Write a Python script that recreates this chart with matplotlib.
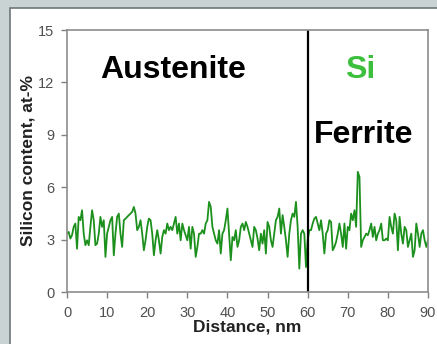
import matplotlib.pyplot as plt
import matplotlib.patches as patches
import numpy as np

plt.rcParams['font.family'] = ['Liberation Sans', 'DejaVu Sans']

# Si concentration profile (at-%)
si_content = [
    3.34, 3.44, 3.06, 3.25, 3.73, 3.92, 2.48, 4.30, 4.11, 4.68,
    3.34, 2.68, 2.96, 2.68, 3.73, 4.68, 4.11, 2.68, 2.77, 3.34,
    4.30, 3.73, 4.11, 2.01, 3.34, 3.73, 4.11, 4.30, 2.10, 3.34,
    4.30, 4.49, 3.34, 2.58, 4.11, 4.20, 4.30, 4.40, 4.49, 4.59,
    4.87, 4.49, 3.54, 3.73, 4.11, 3.34, 2.39, 2.96, 3.73, 4.20,
    4.11, 3.34, 2.10, 2.96, 3.54, 2.96, 2.20, 3.15, 3.54, 3.34,
    3.92, 3.54, 3.73, 3.54, 3.92, 4.30, 3.34, 3.92, 2.96, 3.92,
    3.54, 3.25, 2.96, 3.73, 2.48, 3.73, 3.34, 2.01, 2.58, 3.34,
    3.34, 3.54, 3.34, 3.92, 4.11, 5.16, 4.87, 3.73, 3.34, 2.96,
    2.77, 3.54, 2.20, 3.34, 3.54, 4.11, 4.78, 3.34, 1.82, 3.15,
    2.96, 3.54, 2.58, 2.96, 3.73, 3.92, 3.54, 4.01, 3.73, 3.34,
    2.96, 2.58, 3.73, 3.54, 3.06, 2.39, 3.34, 2.77, 3.54, 2.20,
    4.01, 3.73, 2.96, 2.58, 3.34, 4.11, 4.30, 4.78, 3.34, 4.40,
    3.73, 2.96, 2.01, 3.34, 4.11, 4.49, 4.30, 5.16, 3.73, 1.34,
    3.34, 3.54, 3.34, 1.43, 2.96, 3.54, 3.54, 3.92, 4.20, 4.30,
    3.92, 3.54, 4.11, 3.34, 2.20, 3.34, 3.54, 4.11, 4.01, 2.39,
    2.58, 2.87, 3.34, 3.92, 3.34, 2.58, 3.92, 2.48, 3.73, 3.54,
    4.49, 4.11, 4.68, 3.73, 6.88, 6.59, 2.58, 2.96, 3.15, 3.34,
    3.25, 3.54, 3.92, 3.15, 3.73, 2.96, 3.34, 3.54, 3.92, 2.96,
    2.96, 3.06, 2.96, 4.30, 3.73, 3.34, 4.49, 4.11, 2.39, 4.30,
    3.34, 2.77, 3.73, 3.54, 2.58, 2.96, 3.34, 2.01, 2.39, 3.92,
    3.34, 2.58, 3.34, 3.54, 2.96, 2.58, 2.96,
]
distance = np.linspace(0, 90, len(si_content))  # nm, evenly sampled scan

interface_nm = 60
x_ticks = [0, 10, 20, 30, 40, 50, 60, 70, 80, 90]
y_ticks = [0, 3, 6, 9, 12, 15]

fig = plt.figure(figsize=(4.37, 3.44), dpi=100)
fig.patch.set_facecolor('#c9d3d3')

# white slide panel behind the chart
panel = patches.Rectangle((10 / 437, -0.05), 1.0, 1 - 8 / 344 + 0.05,
                          transform=fig.transFigure, facecolor='white',
                          edgecolor='#6d7777', linewidth=1.2, zorder=-10)
fig.patches.append(panel)

ax = fig.add_axes([67 / 437, 1 - 292 / 344, (428 - 67) / 437, (292 - 30) / 344])
ax.set_facecolor('white')

ax.plot(distance, si_content, color='#1c901c', linewidth=1.3)
ax.axvline(interface_nm, color='black', linewidth=1.6)

ax.set_xlim(0, 90)
ax.set_ylim(0, 15)
ax.set_xticks(x_ticks)
ax.set_yticks(y_ticks)
ax.tick_params(colors='#808080', labelcolor='#505050', labelsize=10.5,
               length=4, width=1)
ax.tick_params(axis='x', pad=6)
ax.tick_params(axis='y', pad=5)
for side in ax.spines.values():
    side.set_color('#8c8c8c')
    side.set_linewidth(1.2)

ax.set_xlabel('Distance, nm', fontsize=12.5, fontweight='bold', color='#222222', labelpad=0)
ax.set_ylabel('Silicon content, at-%', fontsize=12.5, fontweight='bold', color='#222222', labelpad=2)

ax.text(26.4, 12.7, 'Austenite', fontsize=23, fontweight='bold', ha='center', va='center')
ax.text(73, 12.7, 'Si', fontsize=23, fontweight='bold', color='#3cbf3c', ha='center', va='center')
ax.text(74, 9.0, 'Ferrite', fontsize=23, fontweight='bold', ha='center', va='center')

plt.savefig('out.png', dpi=100, facecolor=fig.get_facecolor())
plt.close()
